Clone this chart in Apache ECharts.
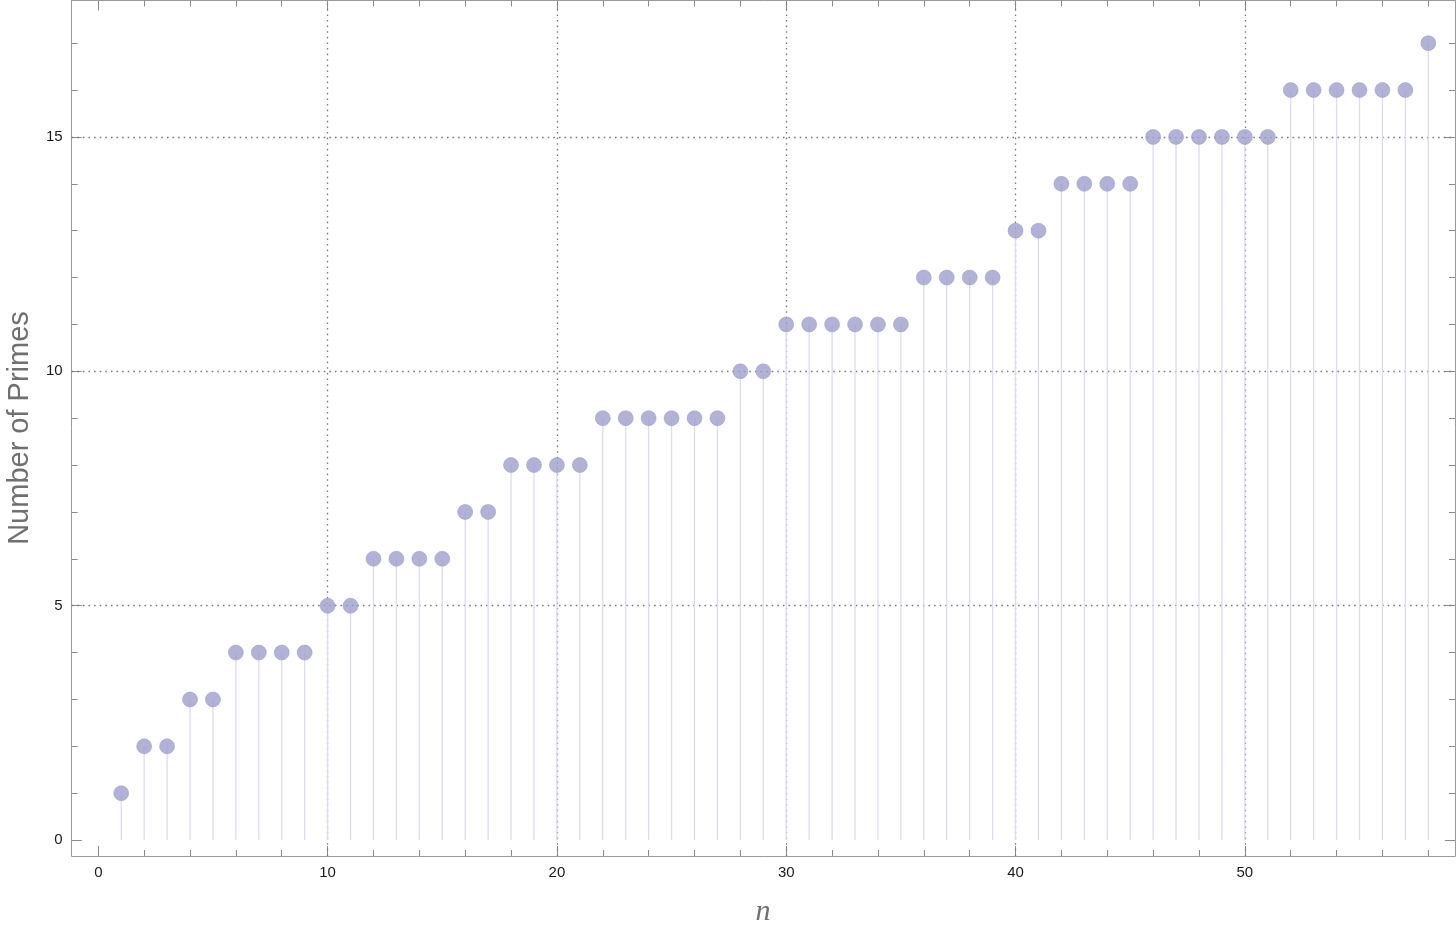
<!DOCTYPE html>
<html>
<head>
<meta charset="utf-8">
<script src="https://cdn.jsdelivr.net/npm/echarts@6/dist/echarts.min.js"></script>
<style>
html,body{margin:0;padding:0;background:#fff;}
#chart{width:1456px;height:933px;}
</style>
</head>
<body>
<div id="chart"></div>
<script>
// ---- data ----
const nValues = [1,2,3,4,5,6,7,8,9,10,11,12,13,14,15,16,17,18,19,20,21,22,23,24,25,26,27,28,29,30,31,32,33,34,35,36,37,38,39,40,41,42,43,44,45,46,47,48,49,50,51,52,53,54,55,56,57,58];
const primeCounts = [1,2,2,3,3,4,4,4,4,5,5,6,6,6,6,7,7,8,8,8,8,9,9,9,9,9,9,10,10,11,11,11,11,11,11,12,12,12,12,13,13,14,14,14,14,15,15,15,15,15,15,16,16,16,16,16,16,17];
const xMajorTicks = [0,10,20,30,40,50];
const xMinorTicks = [2,4,6,8,12,14,16,18,22,24,26,28,32,34,36,38,42,44,46,48,52,54,56,58];
const yMajorTicks = [0,5,10,15];
const yMinorTicks = [1,2,3,4,6,7,8,9,11,12,13,14,16,17];
const xGridLines = [10,20,30,40,50];
const yGridLines = [5,10,15];
const xTitle = 'n';
const yTitle = 'Number of Primes';

const points = nValues.map((n,i)=>[n, primeCounts[i]]);

const X_MIN = -1.16, X_MAX = 59.16, Y_MIN = -0.34, Y_MAX = 17.91;
const frameColor = '#9a9a9a';
const tickColor = '#8a8a8a';

function axis(kind, pos, ticks, len, showLine, labels) {
  return {
    type: 'value', position: pos,
    min: kind === 'x' ? X_MIN : Y_MIN,
    max: kind === 'x' ? X_MAX : Y_MAX,
    axisLine: {show: showLine, onZero: false, lineStyle: {color: frameColor, width: 1}},
    axisTick: {show: true, inside: true, length: len, customValues: ticks, lineStyle: {color: tickColor, width: 1}},
    axisLabel: labels ? {show: true, customValues: ticks, margin: 9, color: '#1a1a1a', fontSize: 15, fontFamily: 'Liberation Sans, Arial, sans-serif'} : {show: false},
    splitLine: {show: false},
    minorTick: {show: false}
  };
}

const chart = echarts.init(document.getElementById('chart'), null, {renderer: 'canvas'});
const gridStyle = {type: [1.6, 4], color: '#7a7a7a', width: 1.3};

chart.setOption({
  animation: false,
  backgroundColor: '#ffffff',
  grid: {left: 71.7, right: 1.1, top: 0.5, bottom: 77, containLabel: false, outerBoundsMode: 'none'},
  xAxis: [
    axis('x','bottom', xMajorTicks, 10, true, true),
    axis('x','bottom', xMinorTicks, 6, false, false),
    axis('x','top', xMajorTicks, 10, true, false),
    axis('x','top', xMinorTicks, 6, false, false)
  ],
  yAxis: [
    axis('y','left', yMajorTicks, 10, true, true),
    axis('y','left', yMinorTicks, 6, false, false),
    axis('y','right', yMajorTicks, 10, true, false),
    axis('y','right', yMinorTicks, 6, false, false)
  ],
  series: [
    {
      type: 'bar', xAxisIndex: 0, yAxisIndex: 0,
      data: points, barWidth: 1.3, silent: true, z: 1,
      itemStyle: {color: '#dcdcee'},
      markLine: {
        silent: true, symbol: ['none','none'], label: {show: false},
        lineStyle: gridStyle, z: 1,
        data: xGridLines.map(v=>({xAxis: v})).concat(yGridLines.map(v=>({yAxis: v})))
      }
    },
    {
      type: 'scatter', xAxisIndex: 0, yAxisIndex: 0,
      data: points, symbol: 'circle', symbolSize: 15, z: 5,
      itemStyle: {color: '#9e9fcb', borderColor: '#9697c4', borderWidth: 0.6}
    }
  ],
  graphic: [
    {type: 'text', left: 6, top: 'middle', rotation: Math.PI/2,
     style: {text: yTitle, fill: '#707070', fontSize: 29, fontFamily: 'Liberation Sans, Arial, sans-serif', textAlign: 'center', textVerticalAlign: 'middle'},
     x: 20, y: 428, left: null, top: null},
    {type: 'text', x: 763, y: 912,
     style: {text: xTitle, fill: '#707070', fontSize: 30, fontStyle: 'italic', fontFamily: 'Liberation Serif, Times New Roman, serif', textAlign: 'center', textVerticalAlign: 'middle'}}
  ]
});
</script>
</body>
</html>
